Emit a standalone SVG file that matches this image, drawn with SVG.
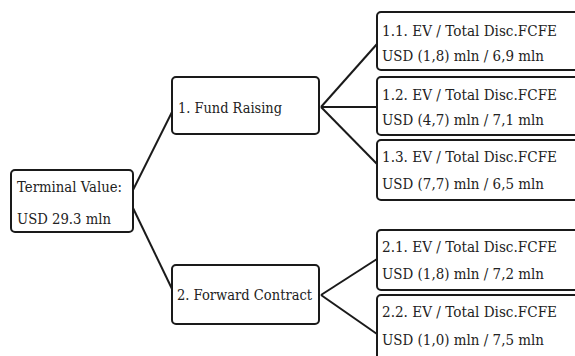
<svg xmlns="http://www.w3.org/2000/svg" width="575" height="356" viewBox="0 0 575 356">
<style>
.box{fill:#fff;stroke:#1a1a1a;stroke-width:2}
.t{font-family:'DejaVu Serif',serif;font-size:15px;fill:#222}
.c{stroke:#1a1a1a;stroke-width:2;fill:none}
</style>
<rect width="575" height="356" fill="#fff"/>
<g id="connectors">
<line class="c" x1="133" y1="190" x2="172" y2="112"/>
<line class="c" x1="133" y1="208" x2="173" y2="291"/>
<line class="c" x1="321" y1="107" x2="377" y2="44"/>
<line class="c" x1="321" y1="107" x2="377" y2="107"/>
<line class="c" x1="321" y1="107" x2="377" y2="164"/>
<line class="c" x1="321" y1="295" x2="377" y2="259"/>
<line class="c" x1="321" y1="295" x2="377" y2="334"/>
</g>
<g id="terminal">
<rect class="box" x="11" y="170" width="122" height="62" rx="4"/>
<text class="t" x="17" y="192" textLength="105" lengthAdjust="spacingAndGlyphs">Terminal Value:</text>
<text class="t" x="17" y="224" textLength="94" lengthAdjust="spacingAndGlyphs">USD 29.3 mln</text>
</g>
<g id="fund">
<rect class="box" x="172" y="77" width="147" height="57" rx="4"/>
<text class="t" x="178" y="113" textLength="104" lengthAdjust="spacingAndGlyphs">1. Fund Raising</text>
</g>
<g id="forward">
<rect class="box" x="172" y="265" width="147" height="59" rx="4"/>
<text class="t" x="177" y="300" textLength="135" lengthAdjust="spacingAndGlyphs">2. Forward Contract</text>
</g>
<g id="n11">
<rect class="box" x="377" y="12" width="210" height="58" rx="4"/>
<text class="t" x="382" y="36" textLength="175" lengthAdjust="spacingAndGlyphs">1.1. EV / Total Disc.FCFE</text>
<text class="t" x="382" y="61" textLength="162" lengthAdjust="spacingAndGlyphs">USD (1,8) mln / 6,9 mln</text>
</g>
<g id="n12">
<rect class="box" x="377" y="77" width="210" height="58" rx="4"/>
<text class="t" x="382" y="100" textLength="175" lengthAdjust="spacingAndGlyphs">1.2. EV / Total Disc.FCFE</text>
<text class="t" x="382" y="125" textLength="162" lengthAdjust="spacingAndGlyphs">USD (4,7) mln / 7,1 mln</text>
</g>
<g id="n13">
<rect class="box" x="377" y="140" width="210" height="60" rx="4"/>
<text class="t" x="382" y="162" textLength="175" lengthAdjust="spacingAndGlyphs">1.3. EV / Total Disc.FCFE</text>
<text class="t" x="382" y="189" textLength="162" lengthAdjust="spacingAndGlyphs">USD (7,7) mln / 6,5 mln</text>
</g>
<g id="n21">
<rect class="box" x="377" y="230" width="210" height="60" rx="4"/>
<text class="t" x="382" y="252" textLength="175" lengthAdjust="spacingAndGlyphs">2.1. EV / Total Disc.FCFE</text>
<text class="t" x="382" y="279" textLength="162" lengthAdjust="spacingAndGlyphs">USD (1,8) mln / 7,2 mln</text>
</g>
<g id="n22">
<rect class="box" x="377" y="295" width="210" height="70" rx="4"/>
<text class="t" x="382" y="317" textLength="175" lengthAdjust="spacingAndGlyphs">2.2. EV / Total Disc.FCFE</text>
<text class="t" x="382" y="345" textLength="162" lengthAdjust="spacingAndGlyphs">USD (1,0) mln / 7,5 mln</text>
</g>
</svg>
